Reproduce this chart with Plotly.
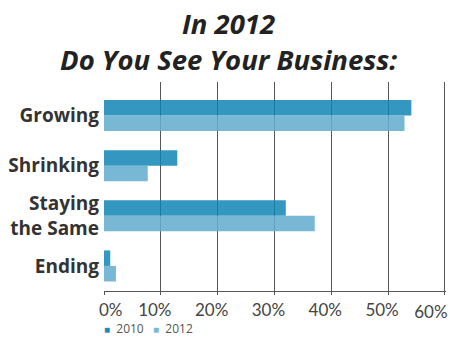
import plotly.graph_objects as go

categories = ["Growing", "Shrinking", "Staying<br>the Same", "Ending"]
values_2010 = [54.1, 12.9, 32.0, 1.1]
values_2012 = [52.9, 7.7, 37.1, 2.1]
x_ticks = [0, 10, 20, 30, 40, 50, 60]
x_tick_labels = ["0%", "10%", "20%", "30%", "40%", "50%", "60%"]
series_names = ["2010", "2012"]
series_colors = ["rgba(12,131,180,0.84)", "rgba(100,174,207,0.87)"]
legend_colors = ["#1f8bb9", "#79b8d6"]

# the first label is nudged right with leading spaces; the last one is drawn
# on an overlaid axis so it can be nudged left without leaving the page
EN = "\u2002"
main_tick_text = list(x_tick_labels)
main_tick_text[0] = EN * 3 + main_tick_text[0]
main_tick_text[-1] = ""
last_tick_val = [x_ticks[-1]]
last_tick_text = [x_tick_labels[-1]]

fig = go.Figure()
for name, vals, col in zip(series_names, [values_2010, values_2012], series_colors):
    fig.add_trace(go.Bar(name=name, y=categories, x=vals, orientation="h",
                         marker=dict(color=col, line=dict(width=0))))

# invisible helper trace so the overlaid axis (carrying the "60%" label) is drawn
fig.add_trace(go.Scatter(x=values_2010, y=categories, xaxis="x2", mode="markers",
                         marker=dict(opacity=0), hoverinfo="skip", showlegend=False))

legend_text = "&nbsp;&nbsp;&nbsp;".join(
    f"<span style='color:{c};font-size:10px'>■</span>&nbsp;&nbsp;{n}" for n, c in zip(series_names, legend_colors))

tickfont = dict(family="Lato", size=17, color="#444")

fig.update_layout(
    width=450, height=339,
    margin=dict(l=104, r=4, t=82, b=48, autoexpand=False),
    paper_bgcolor="white", plot_bgcolor="white",
    barmode="group", bargap=0.38, bargroupgap=0,
    title=dict(text="<b><i>In 2012<br>Do You See Your Business:</i></b>",
               x=0.508, xref="container", xanchor="center",
               y=1 - 34 / 339, yref="container", yanchor="middle",
               font=dict(family="Open Sans", size=27.5, color="#222")),
    showlegend=False,
    annotations=[dict(text=legend_text, xref="paper", x=-0.005, xanchor="left",
                      yref="paper", y=(291 - 328) / 209, yanchor="middle",
                      showarrow=False, font=dict(family="Open Sans", size=12, color="#555"))],
    xaxis=dict(range=[0, 60.2], tickvals=x_ticks, ticktext=main_tick_text,
               showgrid=True, gridcolor="#555", gridwidth=1.2,
               showline=True, linecolor="#555", linewidth=1.2,
               ticks="outside", ticklen=3, tickcolor="#555",
               tickfont=tickfont,
               ticklabelshift=-6, ticklabeloverflow="allow", automargin=False,
               zeroline=False, fixedrange=True),
    xaxis2=dict(range=[0, 60.2], overlaying="x", anchor="y", side="bottom",
                tickvals=last_tick_val, ticktext=last_tick_text,
                showgrid=False, showline=False, ticks="", zeroline=False,
                tickfont=tickfont, ticklabelstandoff=9,
                ticklabelshift=-14, ticklabeloverflow="allow", automargin=False,
                fixedrange=True),
    yaxis=dict(categoryorder="array", categoryarray=categories,
               range=[3.5, -0.67], showgrid=False, showline=False,
               ticks="", ticklabelstandoff=4, automargin=False,
               tickfont=dict(family="Open Sans", size=19, color="#333", weight="bold"),
               fixedrange=True),
)

fig.write_html("out.html")
